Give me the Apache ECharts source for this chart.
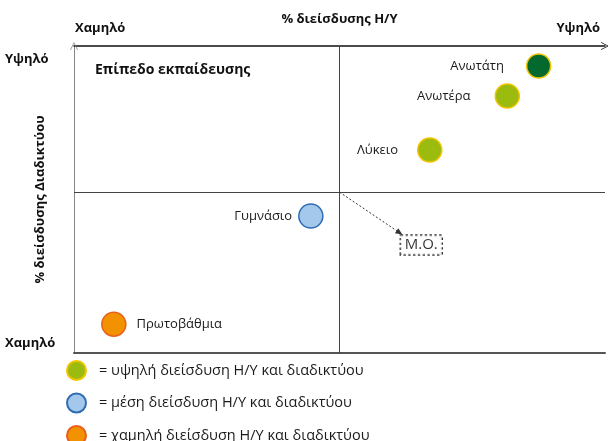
<!DOCTYPE html>
<html>
<head>
<meta charset="utf-8">
<script src="https://cdn.jsdelivr.net/npm/echarts@6/dist/echarts.min.js"></script>
<style>html,body{margin:0;padding:0;background:#fff}#c{width:608px;height:441px}</style>
</head>
<body>
<div id="c"></div>
<script>
// ---- data ----
const highNames = ['Ανωτάτη', 'Ανωτέρα', 'Λύκειο'];
const highX = [87.5, 81.6, 67.0];
const highY = [93.5, 83.7, 66.1];
const midNames = ['Γυμνάσιο'];
const midX = [44.6];
const midY = [44.6];
const lowNames = ['Πρωτοβάθμια'];
const lowX = [7.5];
const lowY = [9.4];
const meanX = 50;
const meanY = 52.4;
const meanLabel = 'Μ.Ο.';
const meanLabelPos = [65.4, 35.2];
const meanArrowEnd = [61.3, 39.2];
const legendNames = ['= υψηλή διείσδυση Η/Υ και διαδικτύου', '= μέση διείσδυση Η/Υ και διαδικτύου', '= χαμηλή διείσδυση Η/Υ και διαδικτύου'];
const xTitle = '% διείσδυσης Η/Υ';
const yTitle = '% διείσδυσης Διαδικτύου';
const lowText = 'Χαμηλό', highText = 'Υψηλό';
const panelTitle = 'Επίπεδο εκπαίδευσης';

// ---- styling ----
const FONT = '"Open Sans", sans-serif';
const labelDist = {'Ανωτάτη': 22, 'Ανωτέρα': 24, 'Λύκειο': 19, 'Γυμνάσιο': 6, 'Πρωτοβάθμια': 10};
const chevron = 'path://M0,10 L5,0 L10,10 L9,10 L5,2 L1,10 Z';

function pts(names, xs, ys, pos, extra) {
  return names.map((n, i) => Object.assign({
    name: n, value: [xs[i], ys[i]],
    label: {show: true, position: pos, distance: labelDist[n], formatter: '{b}'}
  }, extra ? extra(n, i) : {}));
}

const chart = echarts.init(document.getElementById('c'));
const labelStyle = {color: '#1a1a1a', fontSize: 13, fontFamily: FONT};
chart.setOption({
  animation: false,
  textStyle: {fontFamily: FONT},
  grid: {left: 74, right: 3, top: 46, bottom: 88},
  xAxis: [{
    type: 'value', position: 'top', min: 0, max: 100,
    name: xTitle, nameLocation: 'middle', nameGap: 20,
    nameTextStyle: {fontSize: 13, fontWeight: 'bold', color: '#111', fontFamily: FONT},
    axisLine: {show: true, onZero: false, lineStyle: {color: '#111', width: 1.5}, symbol: ['none', chevron], symbolSize: [10, 8]},
    axisTick: {show: false}, axisLabel: {show: false}, splitLine: {show: false}
  }, {
    type: 'value', position: 'bottom', min: 0, max: 100,
    axisLine: {show: true, onZero: false, lineStyle: {color: '#555', width: 2}},
    axisTick: {show: false}, axisLabel: {show: false}, splitLine: {show: false}
  }],
  yAxis: {
    type: 'value', min: 0, max: 100,
    name: yTitle, nameLocation: 'middle', nameGap: 27, nameRotate: 90,
    nameTextStyle: {fontSize: 13, fontWeight: 'bold', color: '#111', fontFamily: FONT},
    axisLine: {show: true, onZero: false, lineStyle: {color: '#888', width: 1}, symbol: ['none', chevron], symbolSize: [9, 8]},
    axisTick: {show: false}, axisLabel: {show: false}, splitLine: {show: false}
  },
  legend: {
    orient: 'vertical', left: 66, top: 360, height: 90, padding: 0,
    itemWidth: 19, itemHeight: 19, itemGap: 11.5,
    icon: 'circle', selectedMode: false,
    data: legendNames,
    textStyle: {fontSize: 14.5, color: '#1a1a1a', fontFamily: FONT, padding: [0, 0, 0, 8]}
  },
  series: [{
    name: legendNames[0], type: 'scatter', symbolSize: 24,
    itemStyle: {color: '#9bbb0f', borderColor: '#f2c400', borderWidth: 1.5, opacity: 1},
    label: labelStyle,
    data: pts(highNames, highX, highY, 'left', (n) => n === 'Ανωτάτη' ? {itemStyle: {color: '#03692f'}} : {})
  }, {
    name: legendNames[1], type: 'scatter', symbolSize: 24,
    itemStyle: {color: '#a4c8ec', borderColor: '#2e6db4', borderWidth: 1.5, opacity: 1},
    label: labelStyle,
    data: pts(midNames, midX, midY, 'left')
  }, {
    name: legendNames[2], type: 'scatter', symbolSize: 24,
    itemStyle: {color: '#f39200', borderColor: '#e8601c', borderWidth: 1.5, opacity: 1},
    label: labelStyle,
    data: pts(lowNames, lowX, lowY, 'right')
  }, {
    name: 'mean', type: 'scatter', symbolSize: 0, silent: true, z: 1,
    data: [{value: meanLabelPos, name: meanLabel}],
    label: {show: true, position: 'inside', formatter: '{b}', fontSize: 15, color: '#000', fontFamily: FONT,
      borderType: 'dotted', borderColor: '#000', borderWidth: 1.2, padding: [3, 4, 1, 4], backgroundColor: '#fff'},
    markLine: {
      silent: true, symbol: 'none', animation: false,
      label: {show: false},
      lineStyle: {color: '#444', width: 1, type: 'solid'},
      data: [{xAxis: meanX}, {yAxis: meanY}]
    }
  }, {
    name: 'arrow', type: 'scatter', data: [], silent: true,
    markLine: {
      silent: true, symbol: ['none', 'triangle'], symbolSize: [6, 7], animation: false,
      label: {show: false},
      lineStyle: {color: '#333', width: 1, type: [2, 2]},
      data: [[{coord: [meanX, meanY]}, {coord: meanArrowEnd}]]
    }
  }],
  graphic: [
    {type: 'text', left: 75, top: 22, style: {text: lowText, font: 'bold 13px ' + FONT, fill: '#111'}},
    {type: 'text', right: 8, top: 22, style: {text: highText, font: 'bold 13px ' + FONT, fill: '#111'}},
    {type: 'text', left: 5, top: 53, style: {text: highText, font: 'bold 13px ' + FONT, fill: '#111'}},
    {type: 'text', left: 5, top: 337, style: {text: lowText, font: 'bold 13px ' + FONT, fill: '#111'}},
    {type: 'text', left: 95, top: 63, style: {text: panelTitle, font: 'bold 14px ' + FONT, fill: '#111'}}
  ]
});
</script>
</body>
</html>
